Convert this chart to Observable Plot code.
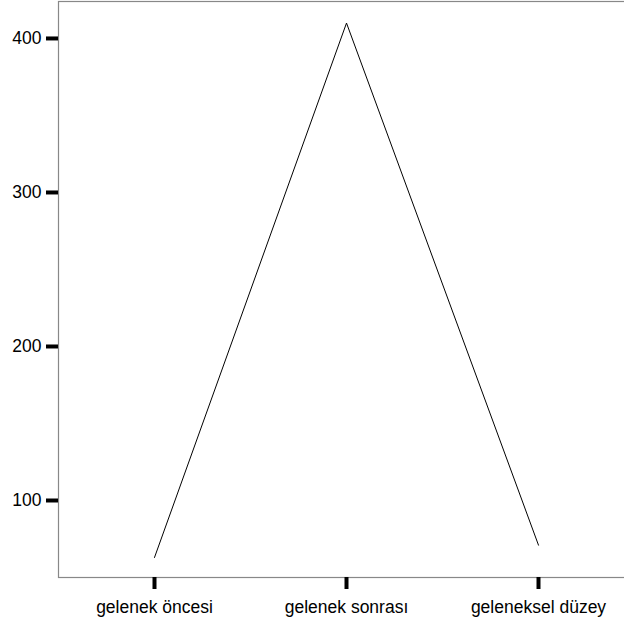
<!DOCTYPE html>
<html>
<head>
<meta charset="utf-8">
<script src="https://cdn.jsdelivr.net/npm/d3@7"></script>
<script src="https://cdn.jsdelivr.net/npm/@observablehq/plot@0.6"></script>
<style>
  html, body { margin: 0; padding: 0; overflow: hidden; background: #fff; }
  svg { max-width: none !important; }
</style>
</head>
<body>
<div id="chart"></div>
<script>
const categories = ["gelenek öncesi", "gelenek sonrası", "geleneksel düzey"];
const values = [63, 410, 71];
const yTicks = [100, 200, 300, 400];

const data = categories.map((c, i) => ({category: c, value: values[i]}));

const chart = Plot.plot({
  width: 634,
  height: 622,
  marginLeft: 58,
  marginRight: 0,
  marginTop: 1,
  marginBottom: 45,
  style: {fontFamily: "Liberation Sans, Arial, sans-serif", fontSize: "17.5px", background: "#fff", color: "#000", maxWidth: "none"},
  x: {type: "point", domain: categories, padding: 0.5, label: null},
  y: {domain: [50, 424], label: null},
  marks: [
    Plot.frame({stroke: "#888", strokeWidth: 1.2}),
    Plot.line(data, {x: "category", y: "value", stroke: "black", strokeWidth: 1}),
    Plot.axisY({ticks: yTicks, label: null, tickSize: 12, tickPadding: 5, strokeWidth: 4, stroke: "black", fill: "black", fontSize: 17.5, tickFormat: d => String(d)}),
    Plot.axisX({label: null, tickSize: 12, tickPadding: 11, strokeWidth: 4, stroke: "black", fill: "black", fontSize: 17.5})
  ]
});
document.getElementById("chart").appendChild(chart);
</script>
</body>
</html>
